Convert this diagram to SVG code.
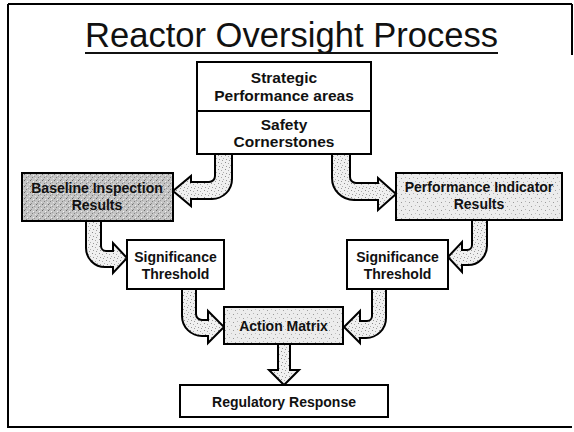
<svg xmlns="http://www.w3.org/2000/svg" width="574" height="432" viewBox="0 0 574 432">
<defs>
<pattern id="stip" width="7" height="7" patternUnits="userSpaceOnUse">
<rect width="7" height="7" fill="#f0f0f0"/>
<rect x="1" y="1" width="1" height="1" fill="#8a8a8a"/>
<rect x="4" y="2" width="1" height="1" fill="#a8a8a8"/>
<rect x="2" y="5" width="1" height="1" fill="#999"/>
<rect x="6" y="4" width="1" height="1" fill="#b0b0b0"/>
<rect x="5" y="6" width="1" height="1" fill="#9a9a9a"/>
</pattern>
<pattern id="stipLight" width="8" height="8" patternUnits="userSpaceOnUse">
<rect width="8" height="8" fill="#ececec"/>
<rect x="1" y="2" width="1" height="1" fill="#999"/>
<rect x="5" y="1" width="1" height="1" fill="#b5b5b5"/>
<rect x="3" y="6" width="1" height="1" fill="#a0a0a0"/>
<rect x="7" y="5" width="1" height="1" fill="#c0c0c0"/>
</pattern>
<pattern id="stipDark" width="6" height="6" patternUnits="userSpaceOnUse">
<rect width="6" height="6" fill="#c4c4c4"/>
<rect x="0" y="0" width="1" height="1" fill="#6a6a6a"/>
<rect x="3" y="1" width="1" height="1" fill="#f0f0f0"/>
<rect x="2" y="3" width="1" height="1" fill="#808080"/>
<rect x="5" y="4" width="1" height="1" fill="#e6e6e6"/>
<rect x="1" y="5" width="1" height="1" fill="#909090"/>
<rect x="4" y="2" width="1" height="1" fill="#9a9a9a"/>
</pattern>
</defs>
<style>
.box{stroke:#000;stroke-width:2}
.plain{fill:#fff}
.lbl{font-family:"Liberation Sans",Arial,sans-serif;font-weight:bold;font-size:14px;fill:#111;text-anchor:middle}
.big{font-size:15.5px}
.arrow{fill:url(#stip);stroke:#000;stroke-width:2;stroke-linejoin:miter}
.frame{stroke:#000;stroke-width:2;fill:none}
</style>
<rect width="574" height="432" fill="#fff"/>
<g id="frame">
<path class="frame" d="M8,4 H572 M8,4 V427 H572 M572,4 V55"/>
</g>
<g id="title">
<text x="85" y="47" font-family="Liberation Sans, Arial, sans-serif" font-size="35" fill="#111" textLength="413" lengthAdjust="spacingAndGlyphs">Reactor Oversight Process</text>
<line x1="85" y1="53" x2="498" y2="53" stroke="#111" stroke-width="2"/>
</g>
<g id="connectors">
<path class="arrow" d="M215,154 V176 A6,6 0 0 1 209,182 H191 V176 L173,191 L191,206 V199 H212 A20,20 0 0 0 232,179 V154 Z"/>
<path class="arrow" d="M332,154 V178 A22,22 0 0 0 354,200 H378 V210 L396,194 L378,178 V183 H356 A6,6 0 0 1 350,177 V154 Z"/>
<path class="arrow" d="M86,221 V248 A19,19 0 0 0 105,267 H113 V273 L127,258 L113,243 V251 H106 A5,5 0 0 1 101,246 V221 Z"/>
<path class="arrow" d="M487,220 V246 A19,19 0 0 1 468,265 H462 V272 L448,257 L462,242 V250 H467 A5,5 0 0 0 472,245 V220 Z"/>
<path class="arrow" d="M182,289 V316 A20,20 0 0 0 202,336 H208 V343 L224,327 L208,311 V320 H202 A6,6 0 0 1 196,314 V289 Z"/>
<path class="arrow" d="M386,289 V318 A20,20 0 0 1 366,338 H360 V343 L344,327 L360,311 V321 H367 A5,5 0 0 0 372,316 V289 Z"/>
<path class="arrow" d="M278,344 V370 H269 L284,385 L299,370 H290 V344 Z"/>
</g>
<g id="strategic">
<rect class="box plain" x="197" y="62" width="174" height="49"/>
<text class="lbl big" x="284" y="83">Strategic</text>
<text class="lbl big" x="284" y="101">Performance areas</text>
</g>
<g id="safety">
<rect class="box plain" x="197" y="111" width="174" height="43"/>
<text class="lbl big" x="284" y="130">Safety</text>
<text class="lbl big" x="284" y="147">Cornerstones</text>
</g>
<g id="baseline">
<rect class="box" fill="url(#stipDark)" x="22" y="173" width="151" height="48"/>
<text class="lbl" x="97" y="193">Baseline Inspection</text>
<text class="lbl" x="97" y="210">Results</text>
</g>
<g id="perf">
<rect class="box" fill="url(#stipLight)" x="396" y="173" width="166" height="47"/>
<text class="lbl" x="479" y="192">Performance Indicator</text>
<text class="lbl" x="479" y="209">Results</text>
</g>
<g id="sig-left">
<rect class="box plain" x="127" y="240" width="97" height="49"/>
<text class="lbl" x="175.5" y="262">Significance</text>
<text class="lbl" x="175.5" y="279">Threshold</text>
</g>
<g id="sig-right">
<rect class="box plain" x="347" y="240" width="101" height="49"/>
<text class="lbl" x="397.5" y="262">Significance</text>
<text class="lbl" x="397.5" y="279">Threshold</text>
</g>
<g id="action">
<rect class="box" fill="url(#stipLight)" x="224" y="307" width="119" height="37"/>
<text class="lbl" x="283.5" y="331">Action Matrix</text>
</g>
<g id="response">
<rect class="box plain" x="180" y="385" width="208" height="32"/>
<text class="lbl" x="284" y="407">Regulatory Response</text>
</g>
</svg>
